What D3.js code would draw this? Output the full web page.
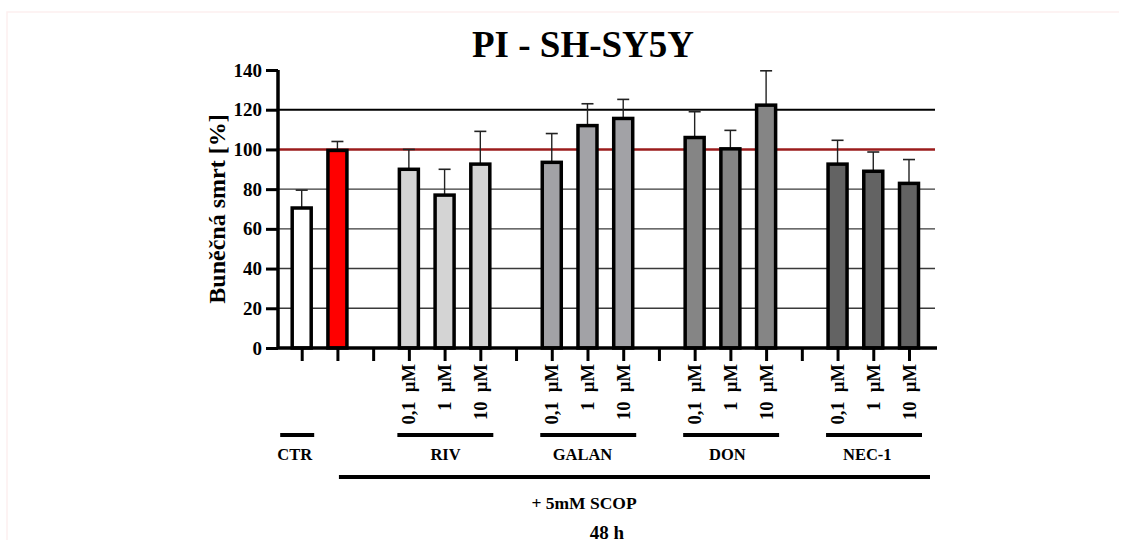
<!DOCTYPE html>
<html>
<head>
<meta charset="utf-8">
<script src="https://d3js.org/d3.v7.min.js"></script>
<style>
  body { margin: 0; background: #fff; }
  text { font-family: "Liberation Serif", "Times New Roman", serif; font-weight: bold; }
</style>
</head>
<body>
<div id="chart"></div>
<script>

// slots along the x axis ("g*" = empty gap slot)
const slots = ["CTR", "SCOP", "g1", "RIV 0,1", "RIV 1", "RIV 10", "g2",
  "GALAN 0,1", "GALAN 1", "GALAN 10", "g3", "DON 0,1", "DON 1", "DON 10", "g4",
  "NEC-1 0,1", "NEC-1 1", "NEC-1 10"];

const barNames = ["CTR", "SCOP", "RIV 0,1", "RIV 1", "RIV 10", "GALAN 0,1", "GALAN 1", "GALAN 10",
  "DON 0,1", "DON 1", "DON 10", "NEC-1 0,1", "NEC-1 1", "NEC-1 10"];
const means = [70.5, 99.5, 90, 77, 92.6, 93.5, 112, 115.6, 106, 100.3, 122.3, 92.6, 89, 82.9];
const errs  = [9, 4.5, 10, 13, 16.5, 14.5, 11, 9.6, 13, 9.3, 17.3, 12, 9.7, 12];
const fills = ["#ffffff", "#ff0000", "#d4d4d4", "#d4d4d4", "#d4d4d4", "#a2a2a6", "#a2a2a6", "#a2a2a6",
  "#858585", "#858585", "#858585", "#636363", "#636363", "#636363"];

const doseLabels = ["0,1  µM", "1  µM", "10  µM"];
const groupNames = ["RIV", "GALAN", "DON", "NEC-1"];
const groupFirst = ["RIV 0,1", "GALAN 0,1", "DON 0,1", "NEC-1 0,1"];
const groupLast  = ["RIV 10", "GALAN 10", "DON 10", "NEC-1 10"];
const yTicks = [0, 20, 40, 60, 80, 100, 120, 140];

// small per-label nudges seen in the original
const labelShift = {"RIV": 1, "GALAN": -5, "DON": -3, "NEC-1": -6};

const W = 1129, H = 544;
const svg = d3.select("#chart").append("svg")
  .attr("width", W).attr("height", H);

// faint frame of the original picture
svg.append("path").attr("d", "M7,540V12H1119").attr("fill", "none")
  .attr("stroke", "#fdf0f0").attr("stroke-width", 1.5);

const pLeft = 278, pRight = 937, pTop = 70, pBottom = 348;

const x = d3.scalePoint().domain(slots).range([301.7, 909]);
const xc = d => x(d);
const y = d3.scaleLinear().domain([0, 140]).range([pBottom, pTop]);

// title
svg.append("text").attr("x", 583).attr("y", 57).attr("text-anchor", "middle")
  .style("font-size", "37px").text("PI - SH-SY5Y");

// gridlines
svg.append("g").selectAll("line")
  .data(yTicks.filter(t => t > 0 && t < 140 && t !== 100))
  .join("line")
    .attr("x1", pLeft).attr("x2", 935)
    .attr("y1", d => y(d)).attr("y2", d => y(d))
    .attr("stroke", d => d === 120 ? "#000" : "#3a3a3a")
    .attr("stroke-width", d => d === 120 ? 2 : 1.4);

// reference line at 100 %
svg.append("line").attr("x1", pLeft).attr("x2", 935)
  .attr("y1", y(100)).attr("y2", y(100))
  .attr("stroke", "#9b1c1c").attr("stroke-width", 2.6);

// y axis
const yAxis = svg.append("g").attr("transform", `translate(${pLeft},0)`)
  .call(d3.axisLeft(y).tickValues(yTicks).tickSize(12).tickPadding(4));
yAxis.select(".domain").attr("stroke-width", 3.5).attr("d", `M0,${pTop}V${pBottom}`);
yAxis.selectAll(".tick line").attr("stroke-width", 3);
yAxis.selectAll(".tick text").style("font-size", "19px").attr("fill", "#000")
  .style("font-family", "'Liberation Serif', serif").style("font-weight", "bold");

svg.append("text")
  .attr("transform", `translate(225,209) rotate(-90)`)
  .attr("text-anchor", "middle").style("font-size", "24px").text("Buněčná smrt [%]");

const bars = barNames.map((n, i) => ({name: n, mean: means[i], err: errs[i], fill: fills[i]}));
const bw = 19;

// error bars (upwards only)
const eb = svg.append("g").selectAll("g").data(bars).join("g");
eb.append("line")
  .attr("x1", d => xc(d.name)).attr("x2", d => xc(d.name))
  .attr("y1", d => y(d.mean)).attr("y2", d => y(d.mean + d.err))
  .attr("stroke", "#222").attr("stroke-width", 1.4);
eb.append("line")
  .attr("x1", d => xc(d.name) - 6).attr("x2", d => xc(d.name) + 6)
  .attr("y1", d => y(d.mean + d.err)).attr("y2", d => y(d.mean + d.err))
  .attr("stroke", "#222").attr("stroke-width", 1.6);

// bars
svg.append("g").selectAll("rect").data(bars).join("rect")
  .attr("x", d => xc(d.name) - bw / 2).attr("width", bw)
  .attr("y", d => y(d.mean)).attr("height", d => y(0) - y(d.mean))
  .attr("fill", d => d.fill).attr("stroke", "#000").attr("stroke-width", 3.5);

// x axis
const xAxis = svg.append("g").attr("transform", `translate(0,${pBottom})`)
  .call(d3.axisBottom(x).tickSize(13).tickFormat(""));
xAxis.select(".domain").attr("stroke-width", 3.5).attr("d", `M${pLeft - 1},0H${pRight}`);
xAxis.selectAll(".tick line").attr("stroke-width", 3);

// dose labels, rotated, with the group bars and names
groupNames.forEach((name, gi) => {
  const i0 = slots.indexOf(groupFirst[gi]);
  slots.slice(i0, i0 + 3).forEach((s, k) => {
    svg.append("text")
      .attr("transform", `translate(${xc(s) + 6.5},364) rotate(-90)`)
      .attr("text-anchor", "end").style("font-size", "18.5px")
      .style("white-space", "pre").text(doseLabels[k]);
  });
  const a = xc(groupFirst[gi]), b = xc(groupLast[gi]);
  svg.append("line")
    .attr("x1", a - 11.5).attr("x2", b + 13)
    .attr("y1", 435).attr("y2", 435).attr("stroke", "#000").attr("stroke-width", 4);
  svg.append("text").attr("x", (a + b) / 2 + labelShift[name]).attr("y", 460)
    .attr("text-anchor", "middle").style("font-size", "16.5px").text(name);
});

// control label
svg.append("line").attr("x1", xc("CTR") - 21.5).attr("x2", xc("CTR") + 12.5)
  .attr("y1", 435).attr("y2", 435).attr("stroke", "#000").attr("stroke-width", 4);
svg.append("text").attr("x", xc("CTR") - 7).attr("y", 460).attr("text-anchor", "middle")
  .style("font-size", "16.5px").text("CTR");

// scopolamine line
svg.append("line").attr("x1", xc("SCOP") + 1.5).attr("x2", xc("NEC-1 10") + 21)
  .attr("y1", 477).attr("y2", 477).attr("stroke", "#000").attr("stroke-width", 4);
svg.append("text").attr("x", 584).attr("y", 509).attr("text-anchor", "middle")
  .style("font-size", "17.5px").text("+ 5mM SCOP");
svg.append("text").attr("x", 607).attr("y", 539).attr("text-anchor", "middle")
  .style("font-size", "19px").text("48 h");

</script>
</body>
</html>
